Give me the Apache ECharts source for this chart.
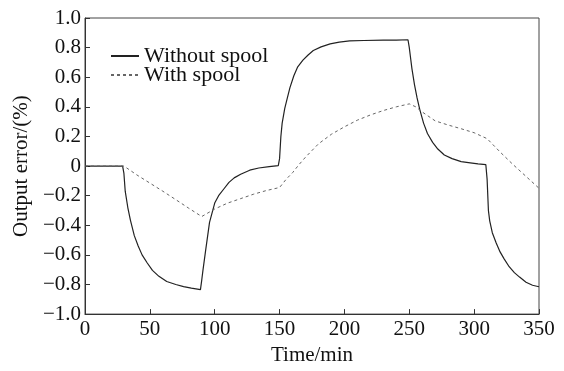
<!DOCTYPE html>
<html>
<head>
<meta charset="utf-8">
<script src="https://cdn.jsdelivr.net/npm/echarts@6/dist/echarts.min.js"></script>
<style>
  html, body { margin: 0; padding: 0; background: #fff; }
  #chart { width: 564px; height: 371px; }
</style>
</head>
<body>
<div id="chart"></div>
<script>
// series names
var seriesNames = ['Without spool', 'With spool'];

// without spool: time (min) / output error (%)
var timeSolid = [0, 29, 30, 31, 33, 35, 38, 41, 44, 48, 52, 57, 63, 70, 76, 82, 89,
    90, 91, 93, 96, 100, 103, 107, 111, 115, 120, 127, 134, 142, 149,
    150, 151, 152, 154, 156, 158, 161, 164, 168, 172, 176, 182, 189, 196, 204, 215, 230, 240, 249,
    250, 251, 252, 254, 256, 258, 261, 264, 268, 272, 277, 283, 290, 297, 303, 309,
    310, 311, 312, 314, 317, 320, 323, 327, 331, 335, 340, 345, 350];
var errSolid = [0, 0, -0.05, -0.17, -0.28, -0.365, -0.47, -0.54, -0.6, -0.655, -0.705, -0.745, -0.78, -0.8, -0.814, -0.825, -0.835,
    -0.77, -0.7, -0.57, -0.38, -0.25, -0.2, -0.155, -0.11, -0.08, -0.055, -0.028, -0.013, -0.004, 0.003,
    0.05, 0.2, 0.29, 0.39, 0.46, 0.53, 0.61, 0.67, 0.715, 0.75, 0.78, 0.805, 0.825, 0.837, 0.845, 0.848, 0.85, 0.85, 0.853,
    0.8, 0.73, 0.66, 0.55, 0.46, 0.385, 0.29, 0.22, 0.16, 0.115, 0.075, 0.05, 0.03, 0.022, 0.015, 0.01,
    -0.09, -0.3, -0.37, -0.45, -0.52, -0.58, -0.625, -0.68, -0.72, -0.75, -0.785, -0.805, -0.815];

// with spool
var timeDashed = [0, 30, 40, 50, 60, 70, 80, 90, 100, 110, 120, 130, 140, 150, 155, 160, 165, 170,
    180, 190, 200, 210, 220, 230, 240, 250, 255, 260, 270, 280, 290, 300, 310, 320, 330, 340, 350];
var errDashed = [0, 0, -0.06, -0.115, -0.17, -0.227, -0.285, -0.341, -0.29, -0.25, -0.22, -0.19, -0.165, -0.145, -0.09, -0.045, 0.01, 0.06,
    0.15, 0.215, 0.265, 0.31, 0.345, 0.375, 0.4, 0.42, 0.4, 0.365, 0.305, 0.277, 0.252, 0.225, 0.185, 0.095, 0.01, -0.07, -0.15];

function pairs(xs, ys) {
    var out = [];
    for (var i = 0; i < xs.length; i++) out.push([xs[i], ys[i]]);
    return out;
}

var font = "'Liberation Serif', 'Times New Roman', serif";
var myChart = echarts.init(document.getElementById('chart'));

var option = {
    backgroundColor: '#fff',
    animation: false,
    grid: {
        left: 85, right: 25, top: 18, bottom: 50,
        show: true, borderColor: '#444', borderWidth: 1
    },
    legend: {
        orient: 'vertical',
        left: 105, top: 40,
        itemWidth: 28, itemHeight: 14, itemGap: -3,
        itemStyle: { opacity: 0 },
        textStyle: { fontFamily: font, fontSize: 22, color: '#111', lineHeight: 19 },
        data: seriesNames
    },
    xAxis: {
        type: 'value',
        min: 0, max: 350, interval: 50,
        name: 'Time/min',
        nameLocation: 'middle',
        nameGap: 28,
        nameTextStyle: { fontFamily: font, fontSize: 21, color: '#111' },
        axisLine: { onZero: false, lineStyle: { color: '#333', width: 1 } },
        axisTick: { inside: true, length: 5, lineStyle: { color: '#333' } },
        axisLabel: { fontFamily: font, fontSize: 21, color: '#111', margin: 5 },
        splitLine: { show: false }
    },
    yAxis: {
        type: 'value',
        min: -1, max: 1, interval: 0.2,
        name: 'Output error/(%)',
        nameLocation: 'middle',
        nameGap: 52,
        nameTextStyle: { fontFamily: font, fontSize: 21, color: '#111' },
        axisLine: { show: true, onZero: false, lineStyle: { color: '#333', width: 1 } },
        axisTick: { show: true, inside: true, length: 5, lineStyle: { color: '#333' } },
        axisLabel: {
            fontFamily: font, fontSize: 21, color: '#111', margin: 4,
            formatter: function (v) {
                if (Math.abs(v) < 1e-9) return '0';
                var s = Math.abs(v).toFixed(1);
                return v < 0 ? '\u2212' + s : s;
            }
        },
        splitLine: { show: false }
    },
    series: [
        {
            name: seriesNames[0],
            type: 'line',
            symbol: 'none',
            data: pairs(timeSolid, errSolid),
            lineStyle: { color: '#222', width: 1.2, type: 'solid' },
            itemStyle: { color: '#222' }
        },
        {
            name: seriesNames[1],
            type: 'line',
            symbol: 'none',
            data: pairs(timeDashed, errDashed),
            lineStyle: { color: '#666', width: 1, type: [3, 3] },
            itemStyle: { color: '#666' }
        }
    ]
};

myChart.setOption(option);
</script>
</body>
</html>
